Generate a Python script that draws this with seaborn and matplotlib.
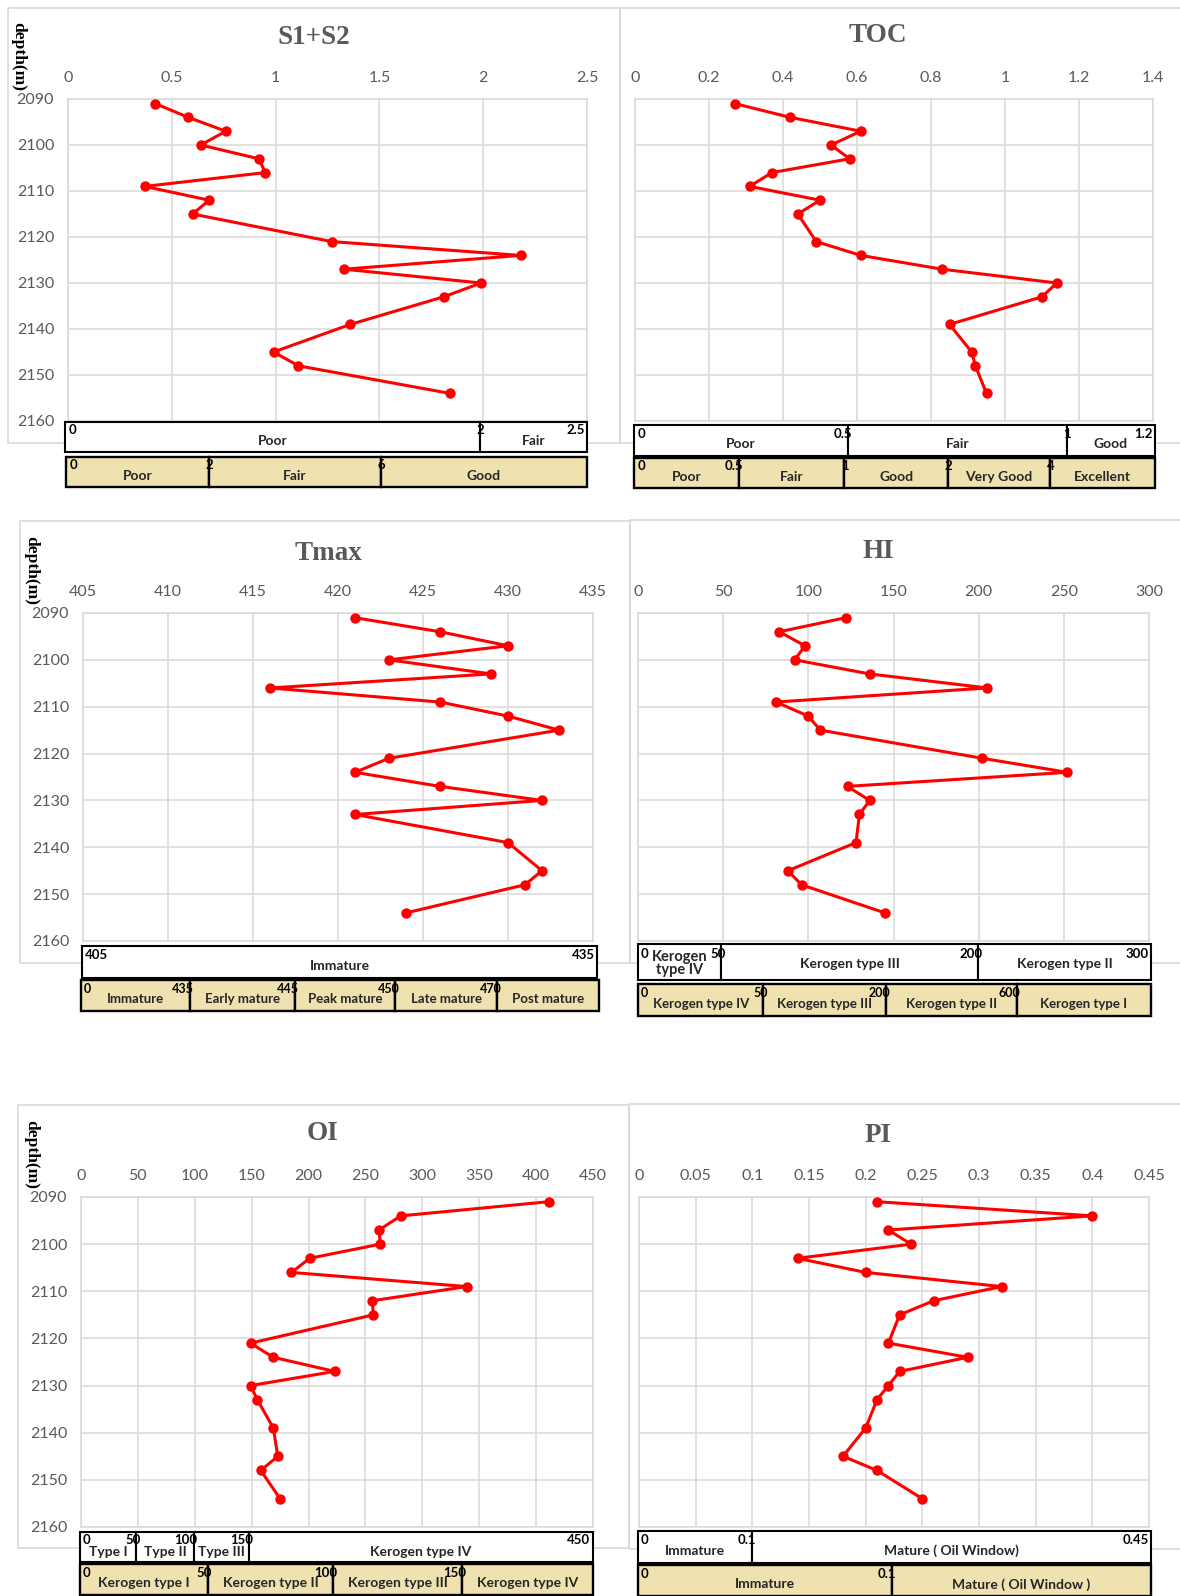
import matplotlib
matplotlib.use("Agg")
import matplotlib.pyplot as plt
from matplotlib.patches import Rectangle
import pandas as pd
import seaborn as sns

# ---------------- data ----------------
depth = [2091, 2094, 2097, 2100, 2103, 2106, 2109, 2112, 2115,
         2121, 2124, 2127, 2130, 2133, 2139, 2145, 2148, 2154]

s1s2 = [0.42, 0.58, 0.76, 0.64, 0.92, 0.95, 0.37, 0.68, 0.60,
        1.27, 2.18, 1.33, 1.99, 1.81, 1.36, 0.99, 1.11, 1.84]
toc = [0.27, 0.42, 0.61, 0.53, 0.58, 0.37, 0.31, 0.50, 0.44,
       0.49, 0.61, 0.83, 1.14, 1.10, 0.85, 0.91, 0.92, 0.95]
tmax = [421, 426, 430, 423, 429, 416, 426, 430, 433,
        423, 421, 426, 432, 421, 430, 432, 431, 424]
hi = [122, 83, 98, 92, 136, 205, 81, 100, 107,
      202, 252, 123, 136, 130, 128, 88, 96, 145]
oi = [411, 281, 262, 263, 201, 185, 339, 256, 257,
      149, 169, 223, 149, 155, 169, 173, 158, 175]
pi_vals = [0.21, 0.40, 0.22, 0.24, 0.14, 0.20, 0.32, 0.26, 0.23,
           0.22, 0.29, 0.23, 0.22, 0.21, 0.20, 0.18, 0.21, 0.25]

depth_ticks = [2090, 2100, 2110, 2120, 2130, 2140, 2150, 2160]
s1s2_ticks = [0, 0.5, 1, 1.5, 2, 2.5]
toc_ticks = [0, 0.2, 0.4, 0.6, 0.8, 1, 1.2, 1.4]
tmax_ticks = [405, 410, 415, 420, 425, 430, 435]
hi_ticks = [0, 50, 100, 150, 200, 250, 300]
oi_ticks = [0, 50, 100, 150, 200, 250, 300, 350, 400, 450]
pi_ticks = [0, 0.05, 0.1, 0.15, 0.2, 0.25, 0.3, 0.35, 0.4, 0.45]

# classification scales under each track: zone names and boundary values
s1s2_zones_a = ["Poor", "Fair"]
s1s2_bounds_a = ["0", "2", "2.5"]
s1s2_zones_b = ["Poor", "Fair", "Good"]
s1s2_bounds_b = ["0", "2", "6"]

toc_zones_a = ["Poor", "Fair", "Good"]
toc_bounds_a = ["0", "0.5", "1", "1.2"]
toc_zones_b = ["Poor", "Fair", "Good", "Very Good", "Excellent"]
toc_bounds_b = ["0", "0.5", "1", "2", "4"]

tmax_zones_a = ["Immature"]
tmax_bounds_a = ["405", "435"]
tmax_zones_b = ["Immature", "Early mature", "Peak mature", "Late mature", "Post mature"]
tmax_bounds_b = ["0", "435", "445", "450", "470"]

hi_zones_a = ["Kerogen\ntype IV", "Kerogen type III", "Kerogen type II"]
hi_bounds_a = ["0", "50", "200", "300"]
hi_zones_b = ["Kerogen type IV", "Kerogen type III", "Kerogen type II", "Kerogen type I"]
hi_bounds_b = ["0", "50", "200", "600"]

oi_zones_a = ["Type I", "Type II", "Type III", "Kerogen type IV"]
oi_bounds_a = ["0", "50", "100", "150", "450"]
oi_zones_b = ["Kerogen type I", "Kerogen type II", "Kerogen type III", "Kerogen type IV"]
oi_bounds_b = ["0", "50", "100", "150"]

pi_zones_a = ["Immature", "Mature ( Oil Window)"]
pi_bounds_a = ["0", "0.1", "0.45"]
pi_zones_b = ["Immature", "Mature ( Oil Window )"]
pi_bounds_b = ["0", "0.1"]

# ---------------- style ----------------
W, H = 1180, 1596
RED = "#ff0000"
GRID = "#d9d9d9"
TICK_C = "#595959"
TAN = "#f0e2b0"
SANS = ["Lato", "DejaVu Sans"]
SERIF = ["Liberation Serif", "DejaVu Serif"]

sns.set_style("white")
plt.rcParams["font.family"] = SANS

fig = plt.figure(figsize=(W / 100, H / 100), dpi=100)
fig.patch.set_facecolor("white")


def fig_rect(x0, y0, x1, y1):
    """Pixel box (top-left origin) -> figure fraction [l, b, w, h]."""
    return [x0 / W, 1 - y1 / H, (x1 - x0) / W, (y1 - y0) / H]


def chart_frame(x0, y0, x1, y1):
    l, b, w, h = fig_rect(x0, y0, x1, y1)
    fig.add_artist(Rectangle((l, b), w, h, transform=fig.transFigure,
                             fill=False, ec=GRID, lw=1.2, zorder=0))


def track(box, values, xticks, title, title_xy, depth_label=None, ylabels=True):
    ax = fig.add_axes(fig_rect(*box))
    df = pd.DataFrame({"value": values, "depth": depth})
    sns.lineplot(data=df, x="value", y="depth", ax=ax, sort=False, orient="y",
                 estimator=None, color=RED, linewidth=2.2, marker="o",
                 markersize=7.5, markeredgewidth=0, zorder=3)
    ax.set_xlim(xticks[0], xticks[-1])
    ax.set_ylim(depth_ticks[-1], depth_ticks[0])
    ax.set_xticks(xticks)
    ax.set_xticklabels([f"{t:g}" for t in xticks])
    ax.set_yticks(depth_ticks)
    if ylabels:
        ax.set_yticklabels([str(t) for t in depth_ticks])
    else:
        ax.set_yticklabels([])
    ax.xaxis.tick_top()
    ax.tick_params(axis="both", length=0, labelsize=11.5, colors=TICK_C)
    ax.tick_params(axis="x", pad=10)
    ax.tick_params(axis="y", pad=10)
    ax.set_xlabel("")
    ax.set_ylabel("")
    ax.grid(True, color=GRID, lw=1.1)
    ax.set_axisbelow(True)
    for s in ax.spines.values():
        s.set_color(GRID)
        s.set_linewidth(1.1)
    fig.text(title_xy[0] / W, 1 - title_xy[1] / H, title, ha="center", va="center",
             family=SERIF, fontweight="bold", fontsize=19.5, color=TICK_C)
    if depth_label is not None:
        fig.text(depth_label[0] / W, 1 - depth_label[1] / H, "depth(m)",
                 ha="center", va="center", rotation=270, family=SERIF,
                 fontweight="bold", fontsize=12.5, color="black")
    return ax


def scale_bar(box, dividers, zones, bounds, face, lw, zone_y=0.38, num_y=0.72,
              fs=10, first_fs=None):
    ax = fig.add_axes(fig_rect(*box))
    ax.set_xlim(0, 1)
    ax.set_ylim(0, 1)
    ax.axis("off")
    edges = [0.0] + list(dividers) + [1.0]
    for i, name in enumerate(zones):
        ax.add_patch(Rectangle((edges[i], 0), edges[i + 1] - edges[i], 1,
                               fc=face, ec="black", lw=lw, clip_on=False))
        size = first_fs if (i == 0 and first_fs) else fs
        ax.text((edges[i] + edges[i + 1]) / 2, zone_y, name, ha="center",
                va="center", fontsize=size, fontweight="bold", color="#262626",
                linespacing=0.9)
    for i, lab in enumerate(bounds):
        if i == 0:
            ax.text(0.006, num_y, lab, ha="left", va="center", fontsize=fs - 0.5,
                    fontweight="bold", color="black")
        elif i == len(edges) - 1:
            ax.text(0.995, num_y, lab, ha="right", va="center", fontsize=fs - 0.5,
                    fontweight="bold", color="black")
        else:
            ax.text(edges[i] + 0.008, num_y, lab, ha="right", va="center",
                    fontsize=fs - 0.5, fontweight="bold", color="black")
    return ax


# chart frames
chart_frame(8, 8, 620, 443)
chart_frame(620, 8, 1185, 443)
chart_frame(20, 521, 630, 963)
chart_frame(630, 520, 1185, 963)
chart_frame(18, 1105, 629, 1548)
chart_frame(629, 1104, 1185, 1549)

# tracks
track((68, 99, 587, 421), s1s2, s1s2_ticks, "S1+S2", (314, 38), depth_label=(18, 56))
track((635, 99, 1153, 421), toc, toc_ticks, "TOC", (878, 36), ylabels=False)
track((83, 613, 593, 941), tmax, tmax_ticks, "Tmax", (328, 553), depth_label=(31, 571))
track((638, 613, 1149, 941), hi, hi_ticks, "HI", (878, 551), ylabels=False)
track((81, 1197, 593, 1527), oi, oi_ticks, "OI", (323, 1134), depth_label=(31, 1155))
track((639, 1197, 1149, 1527), pi_vals, pi_ticks, "PI", (878, 1136), ylabels=False)

# classification bars
scale_bar((65, 422, 587, 452), [0.795], s1s2_zones_a, s1s2_bounds_a, "white", 1.5)
scale_bar((66, 457, 587, 487), [0.275, 0.604], s1s2_zones_b, s1s2_bounds_b, TAN, 1.7)

scale_bar((634, 425, 1155, 456), [0.411, 0.831], toc_zones_a, toc_bounds_a, "white", 1.5)
scale_bar((634, 458, 1155, 488), [0.202, 0.404, 0.602, 0.799], toc_zones_b, toc_bounds_b, TAN, 1.7)

scale_bar((82, 946, 597, 978), [], tmax_zones_a, tmax_bounds_a, "white", 1.5)
scale_bar((81, 980, 599, 1011), [0.210, 0.413, 0.607, 0.804], tmax_zones_b, tmax_bounds_b, TAN, 1.7,
          fs=9.5)

scale_bar((638, 944, 1151, 980), [0.1625, 0.6636], hi_zones_a, hi_bounds_a, "white", 1.5,
          zone_y=0.45, first_fs=10.5)
scale_bar((638, 984, 1151, 1016), [0.2445, 0.483, 0.738], hi_zones_b, hi_bounds_b, TAN, 1.7,
          fs=9.5)

scale_bar((80, 1532, 593, 1562), [0.1097, 0.2216, 0.3297], oi_zones_a, oi_bounds_a, "white", 1.5,
          zone_y=0.33)
scale_bar((80, 1564, 593, 1595), [0.2486, 0.494, 0.745], oi_zones_b, oi_bounds_b, TAN, 1.7)

scale_bar((638, 1531, 1151, 1563), [0.2217], pi_zones_a, pi_bounds_a, "white", 1.5)
scale_bar((638, 1565, 1151, 1596), [0.495], pi_zones_b, pi_bounds_b, TAN, 1.7)

fig.savefig("out.png", dpi=100, facecolor="white")
